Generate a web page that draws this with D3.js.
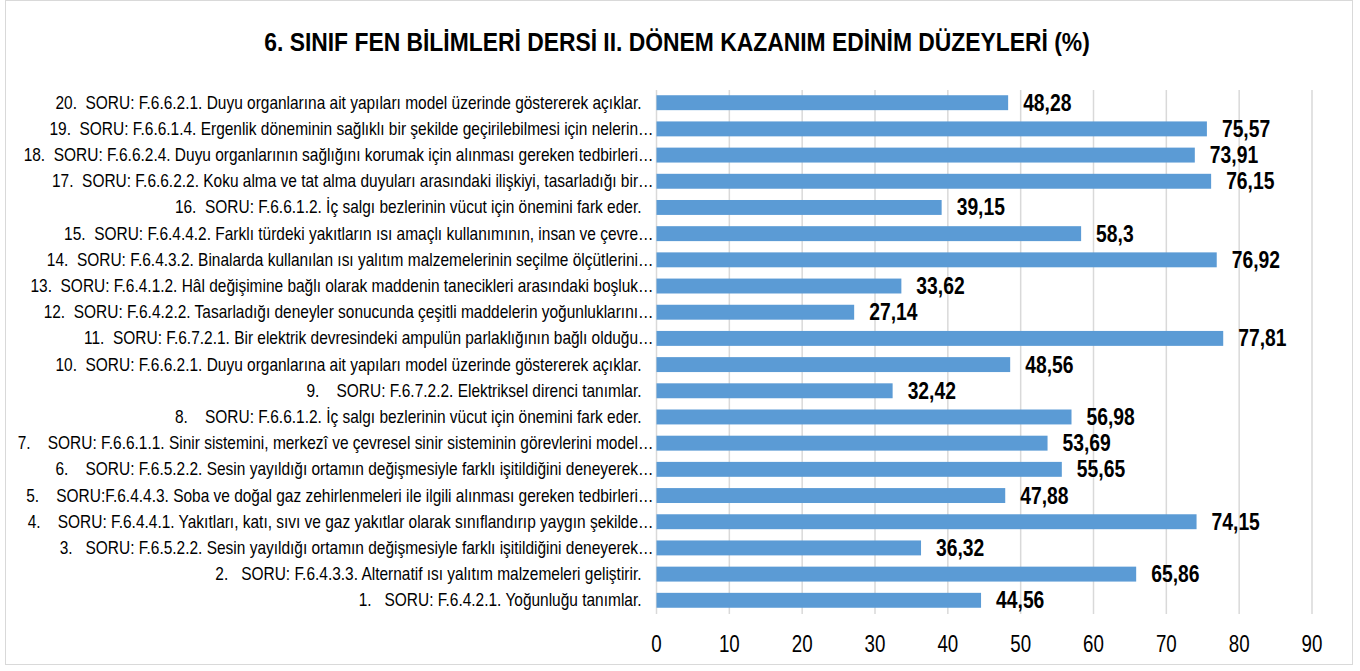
<!DOCTYPE html>
<meta charset="UTF-8">
<style>
  body { margin: 0; background: #fff; }
  svg text { font-family: "Liberation Sans Narrow", "Arial Narrow", "Liberation Sans", sans-serif; fill: #000; }
  .cat text { font-size: 18px; white-space: pre; }
  .grid line { stroke: #d9d9d9; stroke-width: 1.5px; }
  .tick-label { font-size: 24px; }
  .val { font-size: 23px; font-weight: bold; }
</style>
<body>
<script src="https://cdn.jsdelivr.net/npm/d3@7"></script>
<script>

// question labels, from 1 (bottom) up to 20 (top)
var questions = [
  "1.   SORU: F.6.4.2.1. Yoğunluğu tanımlar.",
  "2.   SORU: F.6.4.3.3. Alternatif ısı yalıtım malzemeleri geliştirir.",
  "3.   SORU: F.6.5.2.2. Sesin yayıldığı ortamın değişmesiyle farklı işitildiğini deneyerek…",
  "4.    SORU: F.6.4.4.1. Yakıtları, katı, sıvı ve gaz yakıtlar olarak sınıflandırıp yaygın şekilde…",
  "5.    SORU:F.6.4.4.3. Soba ve doğal gaz zehirlenmeleri ile ilgili alınması gereken tedbirleri…",
  "6.    SORU: F.6.5.2.2. Sesin yayıldığı ortamın değişmesiyle farklı işitildiğini deneyerek…",
  "7.    SORU: F.6.6.1.1. Sinir sistemini, merkezî ve çevresel sinir sisteminin görevlerini model…",
  "8.    SORU: F.6.6.1.2. İç salgı bezlerinin vücut için önemini fark eder.",
  "9.    SORU: F.6.7.2.2. Elektriksel direnci tanımlar.",
  "10.  SORU: F.6.6.2.1. Duyu organlarına ait yapıları model üzerinde göstererek açıklar.",
  "11.  SORU: F.6.7.2.1. Bir elektrik devresindeki ampulün parlaklığının bağlı olduğu…",
  "12.  SORU: F.6.4.2.2. Tasarladığı deneyler sonucunda çeşitli maddelerin yoğunluklarını…",
  "13.  SORU: F.6.4.1.2. Hâl değişimine bağlı olarak maddenin tanecikleri arasındaki boşluk…",
  "14.  SORU: F.6.4.3.2. Binalarda kullanılan ısı yalıtım malzemelerinin seçilme ölçütlerini…",
  "15.  SORU: F.6.4.4.2. Farklı türdeki yakıtların ısı amaçlı kullanımının, insan ve çevre…",
  "16.  SORU: F.6.6.1.2. İç salgı bezlerinin vücut için önemini fark eder.",
  "17.  SORU: F.6.6.2.2. Koku alma ve tat alma duyuları arasındaki ilişkiyi, tasarladığı bir…",
  "18.  SORU: F.6.6.2.4. Duyu organlarının sağlığını korumak için alınması gereken tedbirleri…",
  "19.  SORU: F.6.6.1.4. Ergenlik döneminin sağlıklı bir şekilde geçirilebilmesi için nelerin…",
  "20.  SORU: F.6.6.2.1. Duyu organlarına ait yapıları model üzerinde göstererek açıklar."
];

var values = [44.56, 65.86, 36.32, 74.15, 47.88, 55.65, 53.69, 56.98, 32.42, 48.56,
              77.81, 27.14, 33.62, 76.92, 58.3, 39.15, 76.15, 73.91, 75.57, 48.28];

var xTicks = [0, 10, 20, 30, 40, 50, 60, 70, 80, 90];

var title = "6. SINIF FEN BİLİMLERİ DERSİ II. DÖNEM KAZANIM EDİNİM DÜZEYLERİ (%)";

var W = 1360, H = 671;
var margin = {top: 90, right: 48, bottom: 58, left: 656.5};

// no narrow font installed, so squeeze the text horizontally
function squeeze(x, y, s) {
  return "translate(" + x + "," + y + ") scale(" + s + ",1)";
}

var svg = d3.select("body").append("svg")
    .attr("width", W)
    .attr("height", H);

// outer frame
svg.append("rect")
    .attr("x", 5.5).attr("y", 0.5)
    .attr("width", 1347).attr("height", 664)
    .attr("fill", "#fff")
    .attr("stroke", "#d9d9d9");

svg.append("text")
    .attr("transform", squeeze(W / 2 - 3, 51, 0.88))
    .attr("text-anchor", "middle")
    .style("font-size", "26px")
    .style("font-weight", "bold")
    .text(title);

var data = questions.map(function(q, i) { return {q: q, v: values[i]}; });

var x = d3.scaleLinear()
    .domain([0, 90])
    .range([margin.left, W - margin.right]);

var y = d3.scaleBand()
    .domain(questions.slice().reverse())
    .range([margin.top, H - margin.bottom])
    .paddingInner(0.43)
    .paddingOuter(0.2);

// gridlines
svg.append("g").attr("class", "grid")
  .selectAll("line")
  .data(xTicks)
  .join("line")
    .attr("x1", function(d) { return x(d); })
    .attr("x2", function(d) { return x(d); })
    .attr("y1", margin.top)
    .attr("y2", H - margin.bottom + 1);

// tick labels
svg.append("g")
  .selectAll("text")
  .data(xTicks)
  .join("text")
    .attr("class", "tick-label")
    .attr("transform", function(d) { return squeeze(x(d), 652, 0.78); })
    .attr("text-anchor", "middle")
    .text(function(d) { return d; });

// category labels (the cut ones run up to the axis)
svg.append("g").attr("class", "cat")
  .selectAll("text")
  .data(data)
  .join("text")
    .attr("transform", function(d) {
      var cut = d.q.slice(-1) === "…";
      return squeeze(margin.left - (cut ? 3 : 15), y(d.q) + y.bandwidth() / 2 + 6, 0.86);
    })
    .attr("text-anchor", "end")
    .text(function(d) { return d.q; });

// bars
svg.append("g")
  .selectAll("rect")
  .data(data)
  .join("rect")
    .attr("x", x(0))
    .attr("y", function(d) { return y(d.q); })
    .attr("width", function(d) { return x(d.v) - x(0); })
    .attr("height", y.bandwidth())
    .attr("fill", "#5b9bd5");

// value labels
svg.append("g")
  .selectAll("text")
  .data(data)
  .join("text")
    .attr("class", "val")
    .attr("transform", function(d) {
      return squeeze(x(d.v) + 15, y(d.q) + y.bandwidth() / 2 + 8, 0.84);
    })
    .text(function(d) { return String(d.v).replace(".", ","); });

</script>
</body>
